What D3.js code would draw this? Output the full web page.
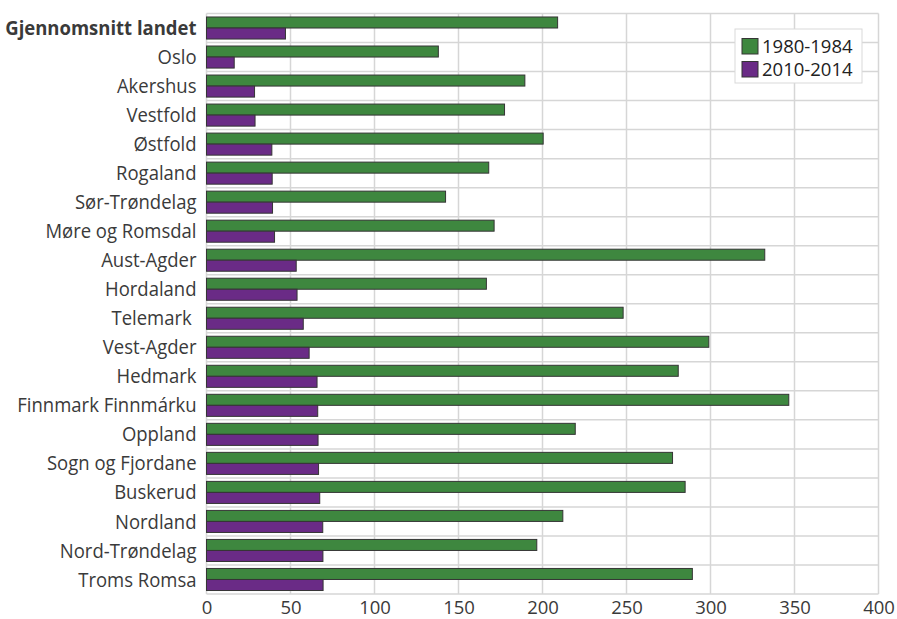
<!DOCTYPE html>
<html>
<head>
<meta charset="utf-8">
<script src="https://cdn.jsdelivr.net/npm/d3@7/dist/d3.min.js"></script>
<style>
  html, body { margin: 0; padding: 0; background: #fff; }
  svg { display: block; font-family: "Open Sans", sans-serif; }
</style>
</head>
<body>
<svg id="chart" width="897" height="619"></svg>
<script>
// Counties, ordered as listed (national average first)
const categories = [
  "Gjennomsnitt landet", "Oslo", "Akershus", "Vestfold", "Østfold",
  "Rogaland", "Sør-Trøndelag", "Møre og Romsdal", "Aust-Agder", "Hordaland",
  "Telemark ", "Vest-Agder", "Hedmark", "Finnmark Finnmárku", "Oppland",
  "Sogn og Fjordane", "Buskerud", "Nordland", "Nord-Trøndelag", "Troms Romsa"
];
const seriesNames = ["1980-1984", "2010-2014"];
const values1980 = [209, 138, 189.5, 177.4, 200.4, 168, 142.3, 171.2, 332.3, 166.6,
                    248, 299, 280.8, 346.6, 219.5, 277.4, 284.9, 212.1, 196.6, 289.2];
const values2010 = [47, 16.5, 28.6, 28.9, 38.9, 39.1, 39.3, 40.5, 53.4, 53.9,
                    57.6, 61.1, 65.8, 66.2, 66.4, 66.7, 67.4, 69.2, 69.3, 69.4];
const xTicks = [0, 50, 100, 150, 200, 250, 300, 350, 400];
const colors = ["#3e873f", "#6a2b86"];

const svg = d3.select("#chart");
const plot = { left: 206.5, right: 878.5, top: 13.5, bottom: 594 };

const x = d3.scaleLinear().domain([0, 400]).range([plot.left, plot.right]);
const y = d3.scaleBand().domain(categories).range([plot.top, plot.bottom])
  .paddingInner(0.24).paddingOuter(0.12);
const ySub = d3.scaleBand().domain(seriesNames).range([0, y.bandwidth()]);

const rows = categories.map((c, i) => ({ name: c, vals: [values1980[i], values2010[i]] }));

const gridColor = "#d6d6d6";
const step = y.step();
const half = step * y.paddingInner() / 2;

// Horizontal separators between categories
const grid = svg.append("g").attr("stroke", gridColor).attr("stroke-width", 1.5);
grid.selectAll("line.h")
  .data(categories)
  .join("line")
  .attr("class", "h")
  .attr("x1", plot.left).attr("x2", plot.right)
  .attr("y1", d => y(d) - half).attr("y2", d => y(d) - half);
grid.append("line")
  .attr("x1", plot.left).attr("x2", plot.right)
  .attr("y1", plot.bottom).attr("y2", plot.bottom);

// Vertical grid from the x axis ticks
grid.selectAll("line.v")
  .data(xTicks)
  .join("line")
  .attr("class", "v")
  .attr("x1", d => x(d)).attr("x2", d => x(d))
  .attr("y1", plot.top).attr("y2", plot.bottom);

// Bars
const groups = svg.append("g").selectAll("g")
  .data(rows)
  .join("g")
  .attr("transform", d => `translate(0,${y(d.name)})`);
groups.selectAll("rect")
  .data(d => d.vals.map((v, k) => ({ key: seriesNames[k], v, k })))
  .join("rect")
  .attr("x", x(0))
  .attr("y", d => ySub(d.key))
  .attr("width", d => x(d.v) - x(0))
  .attr("height", ySub.bandwidth())
  .attr("fill", d => colors[d.k])
  .attr("stroke", "#353535")
  .attr("stroke-width", 1);

// Category labels (slightly tall lettering)
const yAxis = svg.append("g")
  .attr("transform", `translate(${plot.left},0)`)
  .call(d3.axisLeft(y).tickSize(0).tickPadding(10));
yAxis.select(".domain").remove();
yAxis.selectAll("text")
  .attr("font-family", "'Open Sans', sans-serif")
  .attr("font-size", 18.5)
  .attr("fill", "#3a3a3a")
  .attr("dy", 6.6)
  .attr("transform", "scale(1,1.07)")
  .style("white-space", "pre")
  .attr("font-weight", (d, i) => i === 0 ? 700 : 400);

// X axis labels
const xAxis = svg.append("g")
  .attr("transform", `translate(0,${plot.bottom})`)
  .call(d3.axisBottom(x).tickValues(xTicks).tickSize(0));
xAxis.select(".domain").remove();
xAxis.selectAll("text")
  .attr("y", 19.5)
  .attr("dy", 0)
  .attr("font-family", "'Open Sans', sans-serif")
  .attr("font-size", 18.5)
  .attr("fill", "#3a3a3a");

// Legend
const legend = svg.append("g").attr("transform", "translate(735,29)");
legend.append("rect")
  .attr("width", 127).attr("height", 54)
  .attr("fill", "#fff").attr("stroke", "#d9d9d9").attr("stroke-width", 1);
const items = legend.selectAll("g.item")
  .data(seriesNames)
  .join("g")
  .attr("class", "item")
  .attr("transform", (d, i) => `translate(7,${9.5 + i * 23})`);
items.append("rect")
  .attr("width", 16).attr("height", 15.5)
  .attr("fill", (d, i) => colors[i])
  .attr("stroke", "#353535").attr("stroke-width", 1);
items.append("text")
  .attr("x", 20).attr("y", 7.8).attr("dy", "0.35em")
  .attr("font-size", 18.5).attr("fill", "#222")
  .text(d => d);
</script>
</body>
</html>
